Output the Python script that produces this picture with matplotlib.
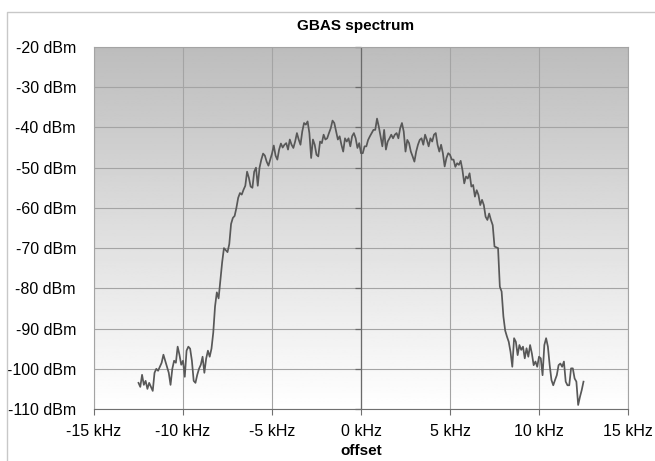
import numpy as np
import matplotlib
matplotlib.use("Agg")
import matplotlib.pyplot as plt
from matplotlib.lines import Line2D

plt.rcParams['font.family'] = ['Liberation Sans', 'DejaVu Sans']

# spectrum trace, every 0.1 kHz from -12.5 to 12.5 kHz
level_low_left = [-103.5, -104.5, -101.5, -104, -103, -105, -103.5, -104.5, -105.5, -101,
                  -100, -100.5, -99.5, -98.5, -96.5, -98, -99.5, -101, -104, -100,
                  -98, -98.5, -94.5, -96.5, -99, -98, -102, -95.5, -94.5, -95,
                  -98, -103, -103.5, -101.5, -100, -99, -97, -101, -97.5, -95.5,
                  -97, -95]
level_rise = [-91, -84.5, -81, -82.5, -78, -73.5, -70, -70.5, -71, -69,
              -64, -62.5, -62, -60, -57.5, -56.3, -56.7, -55.5, -54.5, -51,
              -52.5, -54.7, -55, -51, -50, -54.5, -50, -48, -46.5, -47,
              -48.5, -49.5, -48, -46.5, -44.5, -47, -48, -45.5, -44, -45]
level_top_left = [-44.3, -43.9, -45.5, -43, -44.3, -45.1, -43.5, -41.4, -43, -44.3,
                  -41, -38.9, -39.3, -38.5, -41.4, -47.6, -43, -44.3, -46.8, -47.2,
                  -43.5, -43.9, -41.8, -43, -42.7, -41.4, -40.2, -38.3, -38.9, -41,
                  -43, -42.2, -44.3, -46, -42.7, -43.5, -42.7, -44.7, -42.2, -41.4,
                  -42.7, -45.1, -43.9, -46.4]
level_top_right = [-46.4, -44.7, -44.7, -43.1, -42.2, -41.4, -40.6, -40.6, -37.8, -39.8,
                   -42.2, -44.7, -40.6, -45.5, -43.5, -42.7, -41.8, -42.7, -41.8, -41.4,
                   -42.7, -40.2, -38.9, -41, -46, -43.1, -43.9, -46, -47.2, -48.5,
                   -46, -44.3, -43.1, -42.7, -44.3, -41.8, -43.1, -44.7, -42.7, -43.5,
                   -41.8, -41.4, -44.3, -46, -44.3, -46.4, -49.7, -47.6, -46.4, -46.8,
                   -48]
level_fall = [-48, -49.8, -48.9, -49.3, -48.3, -50.6, -53.9, -52.2, -52.7, -51.4,
              -54.7, -54.3, -57.2, -55.6, -56.8, -59.3, -58, -59.3, -62.2, -63,
              -61.4, -63, -64.3, -69.6, -69.8, -70, -79.6, -80.8, -87]
level_low_right = [-90.5, -92, -93.3, -95.8, -99.5, -92.4, -93.3, -96.6, -94.1, -95.3,
                   -94.5, -97.4, -94.9, -97, -94.1, -96.2, -99.1, -98.2, -99.5, -97,
                   -97.4, -101.6, -94.1, -92.4, -94.5, -99.1, -102.8, -104.1, -102.8, -101.6,
                   -99.1, -98.7, -99.5, -98.2, -103.2, -104.1, -104.1, -99.9, -99.9, -102.4,
                   -103.2, -109, -107, -105.3, -103.2]

level = np.array(level_low_left + level_rise + level_top_left + level_top_right
                 + level_fall + level_low_right)
offset_khz = np.round(np.arange(len(level)) * 0.1 - 12.5, 1)

x_ticks = [-15, -10, -5, 0, 5, 10, 15]
x_labels = ["%d kHz" % v for v in x_ticks]
y_ticks = [-110, -100, -90, -80, -70, -60, -50, -40, -30, -20]
y_labels = ["%d dBm" % v for v in y_ticks]

fig = plt.figure(figsize=(6.55, 4.61), dpi=100)
ax = fig.add_axes([94 / 655, 1 - 409 / 461, 534 / 655, 362 / 461])

# grey at the top fading to white at the bottom
grad = np.linspace(0.74, 1.0, 256).reshape(-1, 1)
ax.imshow(grad, cmap='gray', vmin=0, vmax=1, aspect='auto', origin='upper',
          extent=[-15, 15, -110, -20], zorder=0)

ax.set_xlim(-15, 15)
ax.set_ylim(-110, -20)
ax.set_xticks(x_ticks)
ax.set_xticklabels(x_labels)
ax.set_yticks(y_ticks)
ax.set_yticklabels(y_labels)
ax.grid(True, color='#a4a4a4', lw=0.8, zorder=1)
ax.set_axisbelow(True)

# value axis crossing at 0 kHz, with its ticks pointing left
ax.axvline(0, color='#6a6a6a', lw=0.9, zorder=2)
ax.plot(np.zeros(len(y_ticks)), y_ticks, ls='none', marker=0, ms=4,
        mew=0.9, color='#6a6a6a', zorder=2, clip_on=False)

ax.plot(offset_khz, level, color='#585858', lw=1.25, zorder=3)

ax.tick_params(axis='y', length=0, pad=13, labelsize=11.5)
ax.tick_params(axis='x', length=4, direction='out', color='#707070', labelsize=11.5, pad=7)
for side in ['left', 'top', 'right']:
    ax.spines[side].set_color('#a4a4a4')
ax.spines['bottom'].set_color('#707070')

fig.text(356 / 655, 1 - 26 / 461, "GBAS spectrum", ha='center', va='center',
         fontsize=11, fontweight='bold')
fig.text(361 / 655, 1 - 451 / 461, "offset", ha='center', va='center',
         fontsize=11, fontweight='bold')

# chart area frame
fig.add_artist(Line2D([7 / 655, 7 / 655, 1.0], [0.0, 1 - 12 / 461, 1 - 12 / 461],
                      color='#c8c8c8', lw=1.0, transform=fig.transFigure))

fig.savefig("out.png", dpi=100)
